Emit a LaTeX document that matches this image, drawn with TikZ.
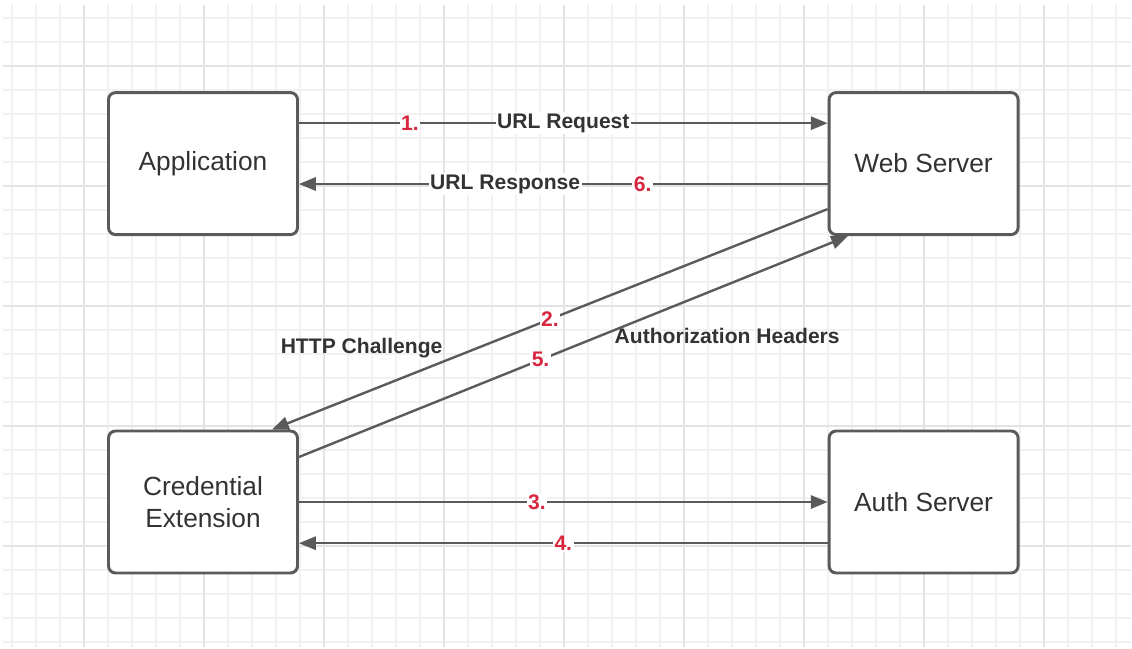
\documentclass[tikz,border=0pt]{standalone}
\usepackage{fontspec}
\setmainfont{Liberation Sans}
\usetikzlibrary{arrows.meta}
\definecolor{edgeGray}{HTML}{5A5A5A}
\definecolor{textGray}{HTML}{333333}
\definecolor{stepRed}{HTML}{D7263D}
\definecolor{gridMinor}{HTML}{F1F1F1}
\definecolor{gridMajor}{HTML}{E3E3E3}

\begin{document}
\begin{tikzpicture}[
  box/.style={rounded corners=5pt, draw=edgeGray, line width=2.1pt, fill=white, minimum width=4.725cm, minimum height=3.55cm, align=center, text=textGray, font=\fontsize{18.7}{22.7}\selectfont},
  flow/.style={-{Triangle[length=0.42cm, width=0.33cm]}, line width=1.7pt, draw=edgeGray},
  num/.style={fill=white, inner sep=1pt, text=stepRed, font=\fontsize{15}{18}\selectfont\bfseries},
  tag/.style={fill=white, inner sep=1pt, text=textGray, font=\fontsize{15}{18}\selectfont\bfseries},
  gridminor/.style={draw=gridMinor, line width=0.8pt},
  gridmajor/.style={draw=gridMajor, line width=0.9pt},
]
\useasboundingbox (0,0) rectangle (28.3,-16.2);

% background grid
\foreach \i in {0,...,46} {
  \draw[gridminor] ({0.3+0.6*\i},-0.125) -- ++(0,-16.05);
}
\foreach \j in {0,...,26} {
  \draw[gridminor] (0.075,{-0.45-0.6*\j}) -- ++(28.2,0);
}
\foreach \i in {0,...,8} {
  \draw[gridmajor] ({2.1+3*\i},-0.125) -- ++(0,-16.05);
}
\foreach \j in {0,...,4} {
  \draw[gridmajor] (0.075,{-1.65-3*\j}) -- ++(28.2,0);
}

\node[box] (app) at (5.075,-4.09) {Application};
\node[box] (web) at (23.09,-4.09) {Web Server};
\node[box] (cred) at (5.075,-12.55) {Credential\\Extension};
\node[box] (auth) at (23.09,-12.55) {Auth Server};

\draw[flow] ([yshift=1.01cm]app.east) -- node[num, pos=0.21] (n1) {1.} node[tag, pos=0.5] (request) {URL Request} ([yshift=1.01cm]web.west);
\draw[flow] ([yshift=-0.51cm]web.west) -- node[num, pos=0.35] (n6) {6.} node[tag, pos=0.61] (response) {URL Response} ([yshift=-0.51cm]app.east);
\draw[flow] ([yshift=-1.1375cm]web.west) -- node[num, pos=0.5] (n2) {2.} ([xshift=1.725cm]cred.north);
\draw[flow] ([yshift=1.125cm]cred.east) -- node[num, pos=0.44] (n5) {5.} ([xshift=-1.89cm]web.south);
\draw[flow] (cred.east) -- node[num, pos=0.45] (n3) {3.} (auth.west);
\draw[flow] ([yshift=-1.03cm]auth.west) -- node[num, pos=0.5] (n4) {4.} ([yshift=-1.03cm]cred.east);

\node[tag, fill=none] (challenge) at (9.04,-8.7) {HTTP Challenge};
\node[tag, fill=none] (headers) at (18.18,-8.4) {Authorization Headers};
\end{tikzpicture}
\end{document}
